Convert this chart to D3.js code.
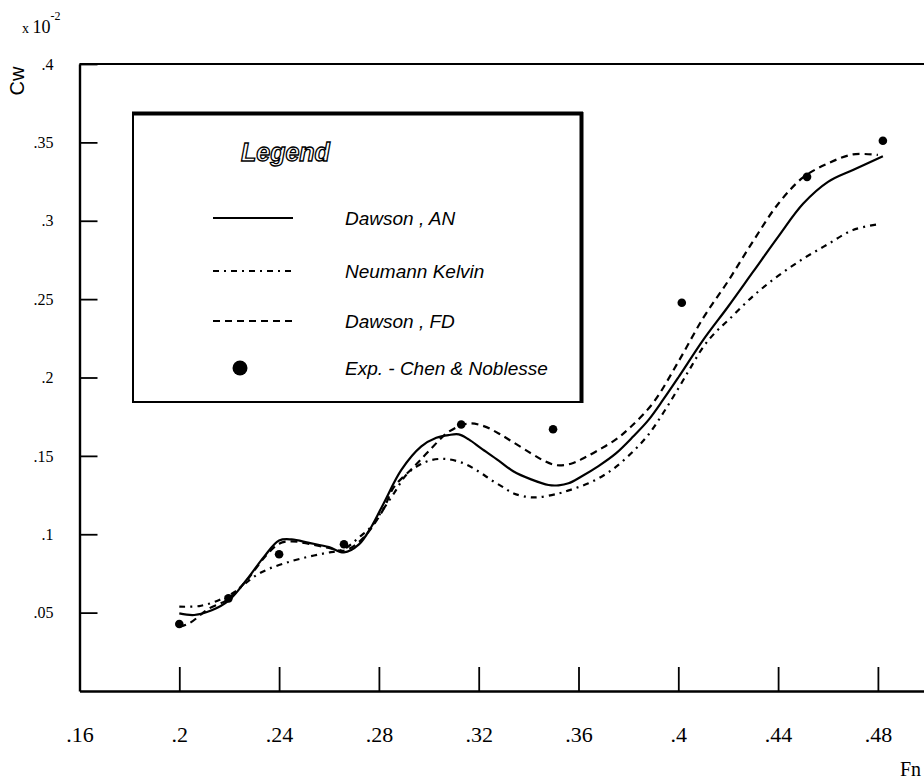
<!DOCTYPE html>
<html>
<head>
<meta charset="utf-8">
<script src="https://cdn.jsdelivr.net/npm/d3@7"></script>
<style>
  body { margin: 0; background: #fff; }
  svg { display: block; }
</style>
</head>
<body>
<svg width="924" height="779"></svg>
<script>
// Dawson, AN (solid)
var anFr = [.200, .206, .213, .220, .227, .234, .240, .245, .252, .260, .266, .272, .277, .282, .289, .297, .303, .308, .312, .316, .321, .328, .334, .341, .348, .352, .356, .361, .368, .375, .382, .388, .394, .400, .410, .420, .430, .440, .450, .460, .470, .482];
var anCw = [.0495, .0485, .0515, .0580, .0710, .0857, .0960, .0967, .0945, .0918, .0884, .0935, .1048, .1200, .1410, .1560, .1615, .1633, .1637, .1605, .1548, .1470, .1400, .1350, .1314, .1312, .1325, .1367, .1435, .1516, .1625, .1728, .1860, .2000, .2240, .2453, .2675, .2897, .3108, .3248, .3324, .3412];

// Neumann Kelvin (dash-dot)
var nkFr = [.200, .208, .216, .222, .226, .231, .236, .242, .249, .258, .266, .272, .277, .281, .286, .291, .296, .301, .307, .314, .320, .325, .330, .334, .342, .352, .358, .364, .370, .375, .382, .388, .394, .400, .405, .410, .415, .420, .430, .440, .450, .460, .470, .480];
var nkCw = [.0538, .0542, .0580, .0630, .0680, .0740, .0780, .0814, .0846, .0878, .0905, .0980, .1050, .1143, .1260, .1380, .1440, .1473, .1480, .1452, .1400, .1346, .1298, .1260, .1235, .1260, .1290, .1325, .1375, .1430, .1530, .1635, .1775, .1930, .2065, .2195, .2290, .2365, .2520, .2648, .2757, .2851, .2941, .2977];

// Dawson, FD (dashed)
var fdFr = [.200, .204, .212, .219, .227, .234, .240, .245, .252, .260, .266, .272, .277, .282, .286, .294, .300, .308, .316, .322, .328, .334, .341, .346, .351, .357, .362, .368, .375, .381, .390, .400, .410, .420, .430, .440, .450, .460, .470, .480];
var fdCw = [.0410, .0432, .0527, .0580, .0705, .0850, .0940, .0955, .0938, .0912, .0895, .0950, .1040, .1165, .1300, .1430, .1530, .1654, .1707, .1690, .1643, .1585, .1516, .1470, .1441, .1450, .1485, .1537, .1605, .1686, .1840, .2100, .2380, .2616, .2870, .3107, .3276, .3366, .3423, .3420];

// Exp. - Chen & Noblesse
var expFr = [.200, .2197, .240, .266, .313, .3498, .4014, .4516, .482];
var expCw = [.0427, .0591, .0872, .0936, .170, .167, .2477, .328, .351];

var xTicks = [.16, .2, .24, .28, .32, .36, .4, .44, .48];
var xTickLabels = ['.16', '.2', '.24', '.28', '.32', '.36', '.4', '.44', '.48'];
var yTicks = [.05, .1, .15, .2, .25, .3, .35, .4];
var yTickLabels = ['.05', '.1', '.15', '.2', '.25', '.3', '.35', '.4'];

var legendNames = ['Dawson , AN', 'Neumann Kelvin', 'Dawson , FD', 'Exp. - Chen & Noblesse'];

var svg = d3.select('svg');

var x = d3.scaleLinear().domain([.16, .52]).range([79.5, 977.7]);
var y = d3.scaleLinear().domain([0, .4]).range([691, 64]);

var styles = [
    { dash: null },
    { dash: '6,5,2,5' },
    { dash: '7,5' }
];

// frame
svg.append('line')
    .attr('x1', x(.16)).attr('x2', 924)
    .attr('y1', y(.4)).attr('y2', y(.4))
    .attr('stroke', '#000').attr('stroke-width', 2.2);

var xAxis = d3.axisBottom(x)
    .tickValues(xTicks)
    .tickFormat((d, i) => xTickLabels[i])
    .tickSizeInner(-24)
    .tickSizeOuter(0);

var gx = svg.append('g')
    .attr('transform', 'translate(0,' + y(0) + ')')
    .call(xAxis);
gx.select('.domain').attr('stroke-width', 2.4);
gx.selectAll('.tick line').attr('stroke-width', 1.8);
gx.selectAll('.tick text')
    .attr('y', 51).attr('dy', 0)
    .attr('font-family', 'Liberation Serif, serif')
    .attr('font-size', 22);

var yAxis = d3.axisLeft(y)
    .tickValues(yTicks)
    .tickFormat((d, i) => yTickLabels[i])
    .tickSizeInner(-18)
    .tickSizeOuter(0)
    .tickPadding(26);

var gy = svg.append('g')
    .attr('transform', 'translate(' + x(.16) + ',0)')
    .call(yAxis);
gy.select('.domain').attr('stroke-width', 2.4);
gy.selectAll('.tick line').attr('stroke-width', 1.8);
gy.selectAll('.tick text')
    .attr('font-family', 'Liberation Serif, serif')
    .attr('font-size', 16);

// axis titles
svg.append('text')
    .attr('transform', 'translate(24,81) rotate(-90)')
    .attr('text-anchor', 'middle')
    .attr('font-family', 'Liberation Sans, sans-serif')
    .attr('font-size', 20)
    .text('Cw');

var mult = svg.append('text')
    .attr('x', 22).attr('y', 33)
    .attr('font-family', 'Liberation Serif, serif')
    .attr('font-size', 18);
mult.append('tspan').attr('font-size', 14).text('x ');
mult.append('tspan').text('10');
mult.append('tspan').attr('font-size', 12).attr('dy', -13).text('-2');

svg.append('text')
    .attr('x', 900).attr('y', 776)
    .attr('font-family', 'Liberation Serif, serif')
    .attr('font-size', 20)
    .text('Fn');

// curves
var line = d3.line()
    .x(d => x(d[0]))
    .y(d => y(d[1]))
    .curve(d3.curveCatmullRom.alpha(0.5));

var series = [d3.zip(anFr, anCw), d3.zip(nkFr, nkCw), d3.zip(fdFr, fdCw)];

svg.selectAll('path.curve')
    .data(series)
    .enter().append('path')
    .attr('class', 'curve')
    .attr('d', d => line(d))
    .attr('fill', 'none')
    .attr('stroke', '#000')
    .attr('stroke-width', 2.2)
    .attr('stroke-dasharray', (d, i) => styles[i].dash);

svg.selectAll('circle.exp')
    .data(d3.zip(expFr, expCw))
    .enter().append('circle')
    .attr('class', 'exp')
    .attr('cx', d => x(d[0]))
    .attr('cy', d => y(d[1]))
    .attr('r', 4.3)
    .attr('fill', '#000');

// legend
var lg = svg.append('g');
lg.append('rect')
    .attr('x', 133).attr('y', 113)
    .attr('width', 448).attr('height', 289)
    .attr('fill', '#fff')
    .attr('stroke', '#000')
    .attr('stroke-width', 2);
lg.append('line')
    .attr('x1', 132).attr('x2', 583).attr('y1', 113.5).attr('y2', 113.5)
    .attr('stroke', '#000').attr('stroke-width', 4);
lg.append('line')
    .attr('x1', 581.5).attr('x2', 581.5).attr('y1', 112).attr('y2', 403)
    .attr('stroke', '#000').attr('stroke-width', 4);

lg.append('text')
    .attr('x', 241).attr('y', 161)
    .attr('font-family', 'Liberation Sans, sans-serif')
    .attr('font-style', 'italic')
    .attr('font-weight', 'bold')
    .attr('font-size', 25)
    .attr('fill', '#fff')
    .attr('stroke', '#000')
    .attr('stroke-width', 1.3)
    .text('Legend');

var rowY = [218, 271, 321, 368];

lg.selectAll('line.sample')
    .data(styles)
    .enter().append('line')
    .attr('class', 'sample')
    .attr('x1', 213).attr('x2', 293)
    .attr('y1', (d, i) => rowY[i]).attr('y2', (d, i) => rowY[i])
    .attr('stroke', '#000')
    .attr('stroke-width', 2.2)
    .attr('stroke-dasharray', d => d.dash);

lg.append('circle')
    .attr('cx', 240).attr('cy', rowY[3])
    .attr('r', 7.5)
    .attr('fill', '#000');

lg.selectAll('text.name')
    .data(legendNames)
    .enter().append('text')
    .attr('class', 'name')
    .attr('x', 345)
    .attr('y', (d, i) => rowY[i] + 7)
    .attr('font-family', 'Liberation Sans, sans-serif')
    .attr('font-style', 'italic')
    .attr('font-size', 19)
    .text(d => d);
</script>
</body>
</html>
